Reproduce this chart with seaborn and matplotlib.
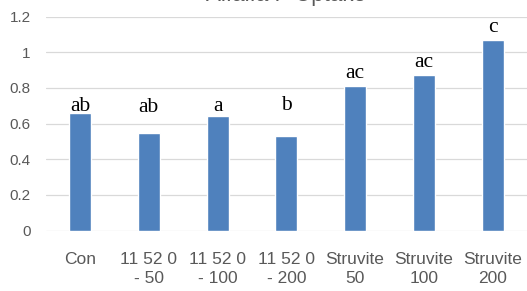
import matplotlib
matplotlib.use("Agg")
import matplotlib.pyplot as plt
import seaborn as sns
import pandas as pd

# data
treatments = ["Con", "11 52 0\n- 50", "11 52 0\n- 100", "11 52 0\n- 200",
              "Struvite\n50", "Struvite\n100", "Struvite\n200"]
uptake = [0.66, 0.55, 0.64, 0.53, 0.81, 0.87, 1.07]
letters = ["ab", "ab", "a", "b", "ac", "ac", "c"]
letter_y = [0.672, 0.666, 0.671, 0.675, 0.854, 0.919, 1.115]
y_ticks = [0, 0.2, 0.4, 0.6, 0.8, 1.0, 1.2]
y_tick_labels = ["0", "0.2", "0.4", "0.6", "0.8", "1", "1.2"]
title_str = "Alfalfa P Uptake"

df = pd.DataFrame({"treatment": treatments, "uptake": uptake})

sns.set_style("white")
plt.rcParams["font.family"] = ["Liberation Sans", "DejaVu Sans"]

fig = plt.figure(figsize=(5.27, 2.91), dpi=100)
ax = fig.add_axes([45.6 / 527, 1 - 230.7 / 291, 1 - 45.6 / 527, (230.7 - 16.5) / 291])

sns.barplot(data=df, x="treatment", y="uptake", color="#4F81BD", saturation=1,
            width=0.32, ax=ax, zorder=3)

# significance letters (manually placed in the original)
for i, (lab, ly) in enumerate(zip(letters, letter_y)):
    ax.text(i, ly, lab, ha="center", va="baseline", fontsize=15.5,
            family="Liberation Serif", color="black")

ax.set_ylim(0, 1.2)
ax.set_xlim(-0.5, len(treatments) - 0.5)
ax.set_yticks(y_ticks)
ax.set_yticklabels(y_tick_labels)
ax.yaxis.grid(True, color="#D9D9D9", linewidth=0.9, zorder=0)
ax.set_axisbelow(True)
for s in ax.spines.values():
    s.set_visible(False)
ax.tick_params(axis="y", length=0, pad=10.8, labelsize=11, labelcolor="#595959")
ax.tick_params(axis="x", length=0, pad=15.5, labelsize=12.5, labelcolor="#595959")
for t in ax.get_xticklabels():
    t.set_linespacing(1.3)
ax.set_xlabel("")
ax.set_ylabel("")

# title is cut off at the top of the image, only its lower edge shows
fig.text(0.543, 1 - 1.0 / 291, title_str, ha="center", va="baseline",
         fontsize=16, color="#595959")

fig.savefig("out.png", dpi=100)
